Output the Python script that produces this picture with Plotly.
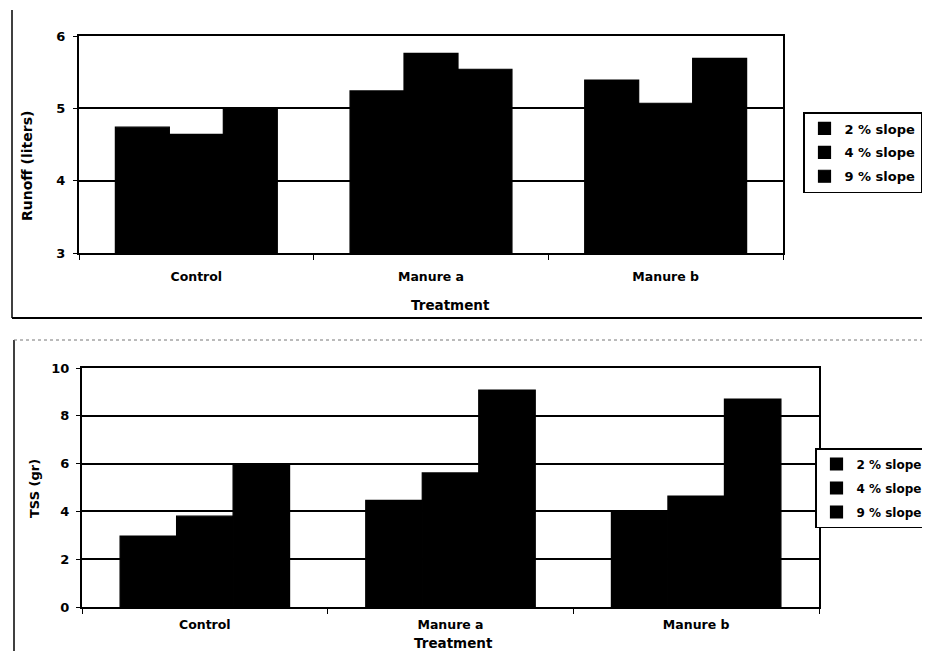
import plotly.graph_objects as go

# ---- data ----
categories = ["Control", "Manure a", "Manure b"]
series_names = ["2 % slope", "4 % slope", "9 % slope"]

runoff_2 = [4.74, 5.24, 5.39]
runoff_4 = [4.64, 5.76, 5.07]
runoff_9 = [4.99, 5.54, 5.69]

tss_2 = [2.97, 4.46, 4.02]
tss_4 = [3.80, 5.61, 4.64]
tss_9 = [5.92, 9.08, 8.70]

runoff_ticks = [3, 4, 5, 6]
tss_ticks = [0, 2, 4, 6, 8, 10]

W, H = 930, 651
OFF = 8  # page body margin of the html page
FONT = "DejaVu Sans"
BAR_COLOR = "black"


def px(x):
    return (x - OFF) / W


def py(y):
    return 1 - (y - OFF) / H


fig = go.Figure()

for i, (name, vals) in enumerate(zip(series_names, [runoff_2, runoff_4, runoff_9])):
    fig.add_trace(go.Bar(x=categories, y=vals, name=name, xaxis="x", yaxis="y",
                         marker=dict(color=BAR_COLOR, line=dict(width=1.2, color=BAR_COLOR)),
                         legend="legend", legendgroup=f"r{i}"))
for i, (name, vals) in enumerate(zip(series_names, [tss_2, tss_4, tss_9])):
    fig.add_trace(go.Bar(x=categories, y=vals, name=name, xaxis="x2", yaxis="y2",
                         marker=dict(color=BAR_COLOR, line=dict(width=1.2, color=BAR_COLOR)),
                         legend="legend2", legendgroup=f"t{i}"))

xtick_font = dict(family=FONT, size=12.5, color="black", weight="bold")
ytick_font = dict(family=FONT, size=13, color="black", weight="bold")
axis_common = dict(showline=True, linecolor="black", linewidth=2, mirror=True,
                   zeroline=False)

fig.update_layout(
    width=W, height=H,
    margin=dict(l=0, r=0, t=0, b=0, autoexpand=False),
    paper_bgcolor="white", plot_bgcolor="white",
    barmode="group", bargap=0.31, bargroupgap=0,
    font=dict(family=FONT, size=12, color="black", weight="bold"),
    xaxis=dict(domain=[px(79), px(783)], anchor="y", type="category",
               ticks="outside", tickson="boundaries", ticklen=5, tickwidth=1,
               tickcolor="black", showgrid=False, tickfont=xtick_font,
               ticklabelstandoff=11, **axis_common),
    yaxis=dict(domain=[py(253), py(36)], anchor="x", range=[3, 6],
               tickvals=runoff_ticks, ticks="outside", ticklen=4, tickcolor="black",
               tickfont=ytick_font, ticklabelstandoff=5,
               showgrid=True, gridcolor="black", gridwidth=2, **axis_common),
    xaxis2=dict(domain=[px(82), px(819)], anchor="y2", type="category",
                ticks="outside", tickson="boundaries", ticklen=5, tickwidth=1,
                tickcolor="black", showgrid=False, tickfont=xtick_font,
                ticklabelstandoff=5, **axis_common),
    yaxis2=dict(domain=[py(607), py(368)], anchor="x2", range=[0, 10],
                tickvals=tss_ticks, ticks="outside", ticklen=4, tickcolor="black",
                tickfont=ytick_font, ticklabelstandoff=4,
                showgrid=True, gridcolor="black", gridwidth=2, **axis_common),
    legend=dict(x=px(803), y=py(112), xanchor="left", yanchor="top",
                bordercolor="black", borderwidth=1.5, bgcolor="white",
                font=dict(family=FONT, size=13, color="black", weight="bold"),
                itemwidth=30, tracegroupgap=4),
    legend2=dict(x=px(815), y=py(448), xanchor="left", yanchor="top",
                 bordercolor="black", borderwidth=1.5, bgcolor="white",
                 font=dict(family=FONT, size=12, color="black", weight="bold"),
                 itemwidth=30, tracegroupgap=5),
    showlegend=True,
)

# axis titles as annotations positioned like the reference
title_common = dict(xref="paper", yref="paper", xanchor="center", yanchor="middle",
                    showarrow=False)
fig.add_annotation(text="Runoff (liters)", x=px(27), y=py(166), textangle=-90,
                   font=dict(family=FONT, size=14, color="black", weight="bold"),
                   **title_common)
fig.add_annotation(text="Treatment", x=px(450), y=py(305),
                   font=dict(family=FONT, size=13.5, color="black", weight="bold"),
                   **title_common)
fig.add_annotation(text="TSS (gr)", x=px(35), y=py(489), textangle=-90,
                   font=dict(family=FONT, size=13, color="black", weight="bold"),
                   **title_common)
fig.add_annotation(text="Treatment", x=px(453), y=py(643),
                   font=dict(family=FONT, size=13.5, color="black", weight="bold"),
                   **title_common)

# outer frame lines of the scanned page
fig.add_shape(type="line", xref="paper", yref="paper", x0=px(12), x1=px(12), y0=py(10), y1=py(318),
              line=dict(color="black", width=1.5))
fig.add_shape(type="line", xref="paper", yref="paper", x0=px(12), x1=1, y0=py(318), y1=py(318),
              line=dict(color="black", width=2))
fig.add_shape(type="line", xref="paper", yref="paper", x0=px(14), x1=px(14), y0=py(340), y1=0,
              line=dict(color="black", width=1.5))
fig.add_shape(type="line", xref="paper", yref="paper", x0=px(14), x1=1, y0=py(340), y1=py(340),
              line=dict(color="#777777", width=1, dash="dot"))

fig.write_html("out.html")
